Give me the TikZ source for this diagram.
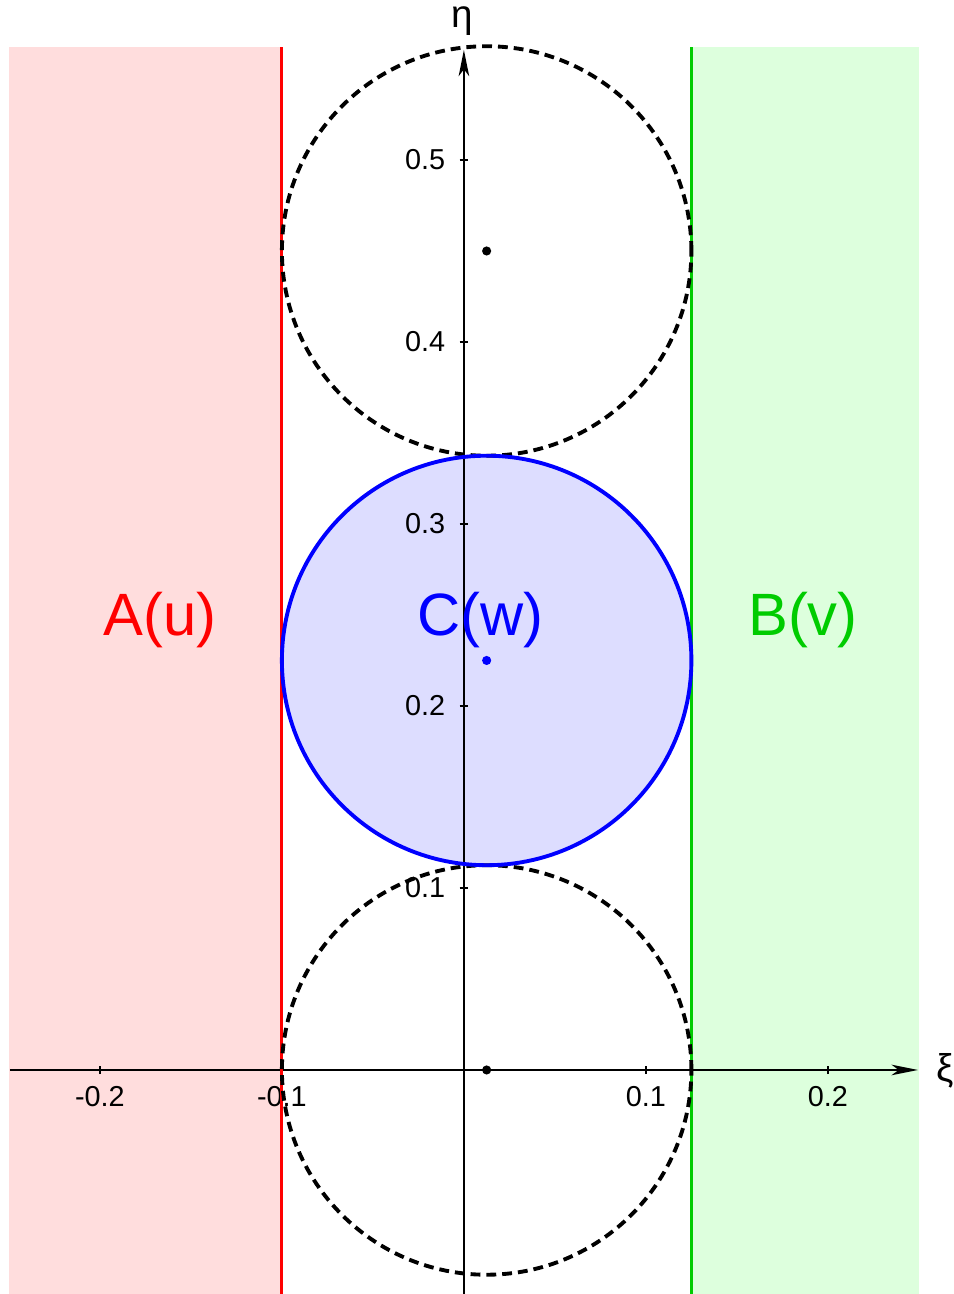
\documentclass[tikz,border=0pt]{standalone}
\usepackage{fontspec}
\setmainfont{Liberation Sans}
\usetikzlibrary{arrows.meta}

\definecolor{lineA}{RGB}{255,0,0}
\definecolor{lineB}{RGB}{0,204,0}
\definecolor{lineC}{RGB}{0,0,255}
\definecolor{fillA}{RGB}{255,221,221}
\definecolor{fillB}{RGB}{221,255,221}
\definecolor{fillC}{RGB}{221,221,255}

\begin{document}
\begin{tikzpicture}[
        x=18.2cm, y=18.2cm,
        every node/.style={font=\fontsize{8.2}{10}\selectfont, inner sep=0pt},
        axis/.style={-{Stealth[length=7.5pt, width=3pt, inset=2pt]}, line width=0.55pt},
        tick/.style={line width=0.55pt},
        border/.style={line width=0.9pt},
        circ/.style={line width=1.1pt},
        ghost/.style={line width=1.1pt, black, dash pattern=on 2.8pt off 1.7pt},
        region/.style={font=\fontsize{17}{21}\selectfont},
        axlabel/.style={font=\fontsize{11}{13}\selectfont},
        dot/.style={circle, fill, minimum size=2.6pt}
    ]
    \useasboundingbox (-0.2549,-0.1231) rectangle (0.2692,0.5879);

    % --- Regions ---
    \fill[fillA] (-0.25,-0.1231) rectangle (-0.1,0.5621);
    \fill[fillB] (0.125,-0.1231) rectangle (0.25,0.5621);
    \fill[fillC] (0.0125,0.225) circle[radius=0.1125];

    % --- Axes ---
    \coordinate (xstart) at (-0.2495,0);
    \coordinate (xend) at (0.2495,0);
    \coordinate (ystart) at (0,-0.1231);
    \coordinate (yend) at (0,0.5605);
    \draw[axis] (xstart) -- (xend);
    \draw[axis] (ystart) -- (yend);
    \node[axlabel] (xi) at (0.2643,-0.0005) {ξ};
    \node[axlabel] (eta) at (-0.001,0.5761) {η};

    % --- Ticks ---
    \foreach \x/\n in {-0.2/xa, -0.1/xb, 0.1/xc, 0.2/xd} {
        \draw[tick] (\x,0) ++(0,-1.2pt) -- ++(0,2.4pt);
        \node (\n) at (\x,-0.01484) {\x};
    }
    \foreach \y/\n in {0.1/ya, 0.2/yb, 0.3/yc, 0.4/yd, 0.5/ye} {
        \draw[tick] (0,\y) ++(-1.2pt,0) -- ++(2.4pt,0);
        \node[anchor=east] (\n) at (-0.0099,\y) {\y};
    }

    % --- Borders ---
    \draw[border, lineA] (-0.1,-0.1231) -- (-0.1,0.5621);
    \draw[border, lineB] (0.125,-0.1231) -- (0.125,0.5621);

    % --- Circles ---
    \draw[ghost] (0.0125,0.45) circle[radius=0.1125];
    \draw[ghost] (0.0125,0) circle[radius=0.1125];
    \draw[circ, lineC] (0.0125,0.225) circle[radius=0.1125];

    % --- Centres ---
    \node[dot] (top) at (0.0125,0.45) {};
    \node[dot] (bot) at (0.0125,0) {};
    \node[dot, lineC] (mid) at (0.0125,0.225) {};

    % --- Region labels ---
    \node[region, lineA] (labA) at (-0.167,0.247) {A(u)};
    \node[region, lineC] (labC) at (0.0093,0.247) {C(w)};
    \node[region, lineB] (labB) at (0.1863,0.247) {B(v)};

\end{tikzpicture}
\end{document}
